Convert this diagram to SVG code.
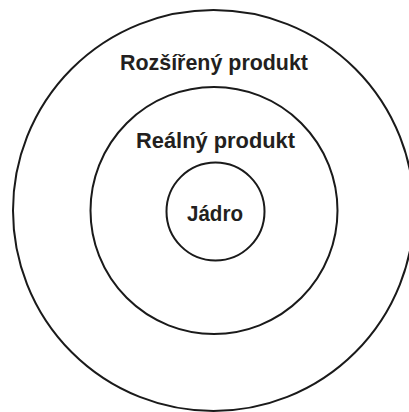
<svg xmlns="http://www.w3.org/2000/svg" width="409" height="412" viewBox="0 0 409 412">
<style>
.c{fill:none;stroke:#1a1a1a;stroke-width:2}
.t{font-family:"Liberation Sans",Arial,sans-serif;font-weight:bold;font-size:21.5px;fill:#231f20;text-anchor:middle}
</style>
<rect width="409" height="412" fill="#fff"/>
<g id="outer">
<circle class="c" cx="213.5" cy="210.5" r="200.5"/>
<text class="t" x="214" y="70" textLength="188" lengthAdjust="spacingAndGlyphs">Rozšířený produkt</text>
</g>
<g id="middle">
<circle class="c" cx="214" cy="210.5" r="123.5"/>
<text class="t" x="215.5" y="148" textLength="159" lengthAdjust="spacingAndGlyphs">Reálný produkt</text>
</g>
<g id="inner">
<circle class="c" cx="215.5" cy="211.5" r="49"/>
<text class="t" x="215" y="221" textLength="56" lengthAdjust="spacingAndGlyphs">Jádro</text>
</g>
<g id="connectors"/>
</svg>
